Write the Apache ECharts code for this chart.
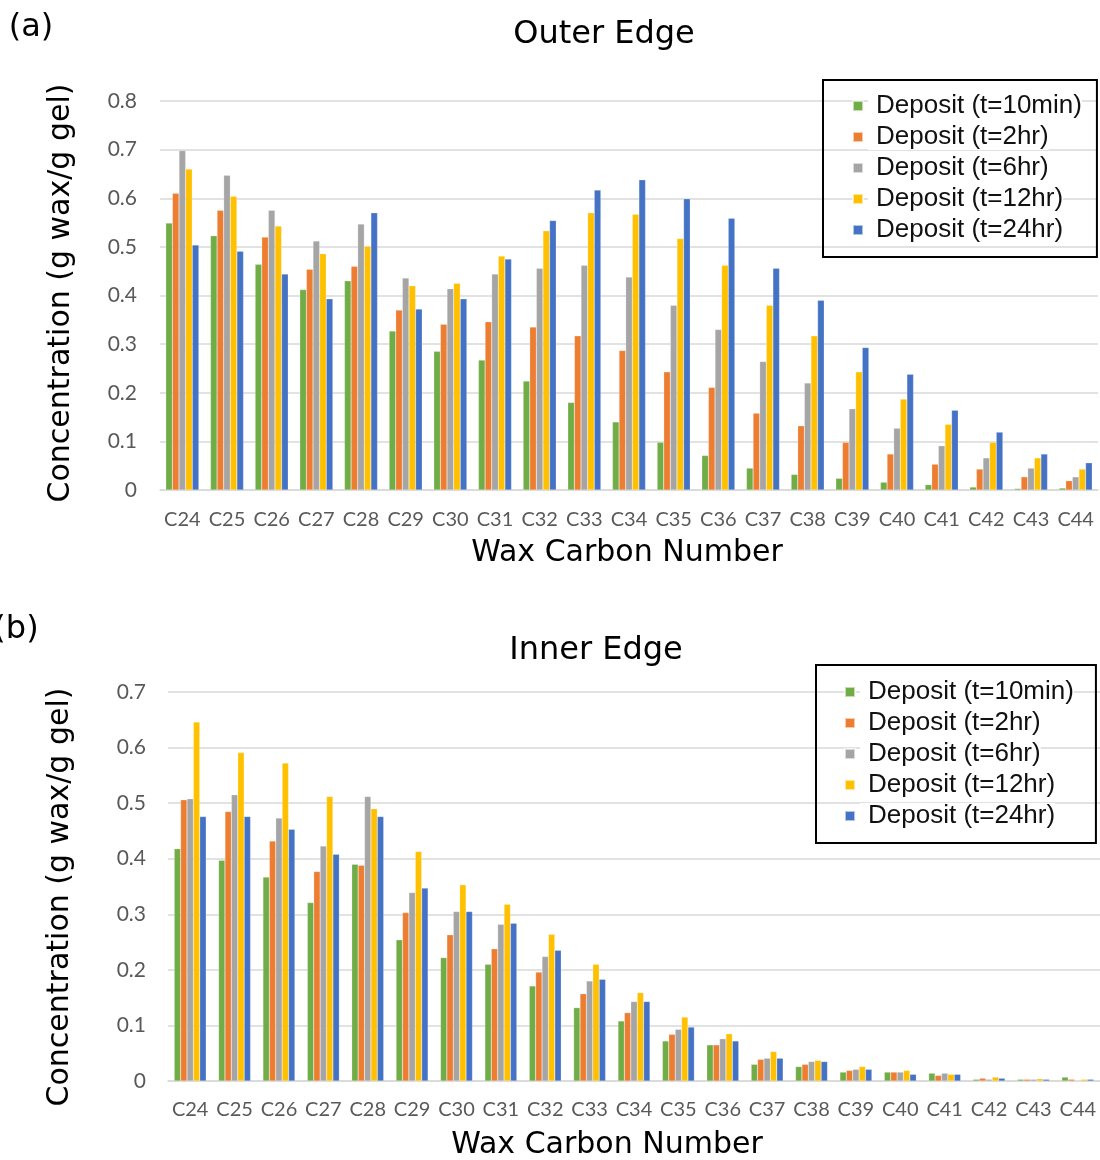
<!DOCTYPE html>
<html>
<head>
<meta charset="utf-8">
<script src="https://cdn.jsdelivr.net/npm/echarts@6/dist/echarts.min.js"></script>
<style>html,body{margin:0;padding:0;background:#fff}#c{width:1100px;height:1160px}</style>
</head>
<body>
<div id="c"></div>
<script>
const categories = ['C24','C25','C26','C27','C28','C29','C30','C31','C32','C33','C34','C35','C36','C37','C38','C39','C40','C41','C42','C43','C44'];
const seriesNames = ['Deposit (t=10min)','Deposit (t=2hr)','Deposit (t=6hr)','Deposit (t=12hr)','Deposit (t=24hr)'];
const colors = ['#70AD47','#ED7D31','#A5A5A5','#FFC000','#4472C4'];

// (a) Outer Edge
const outer10min = [0.549,0.523,0.464,0.412,0.430,0.327,0.285,0.267,0.224,0.180,0.140,0.098,0.071,0.045,0.032,0.024,0.016,0.011,0.006,0.003,0.004];
const outer2hr   = [0.610,0.575,0.520,0.454,0.460,0.370,0.341,0.346,0.335,0.317,0.287,0.243,0.211,0.158,0.132,0.098,0.074,0.053,0.043,0.027,0.019];
const outer6hr   = [0.698,0.647,0.575,0.512,0.547,0.436,0.414,0.444,0.456,0.462,0.438,0.380,0.330,0.264,0.220,0.167,0.127,0.091,0.066,0.045,0.027];
const outer12hr  = [0.660,0.604,0.543,0.486,0.501,0.420,0.425,0.481,0.533,0.570,0.567,0.517,0.462,0.380,0.317,0.243,0.187,0.135,0.098,0.066,0.043];
const outer24hr  = [0.504,0.491,0.444,0.393,0.570,0.372,0.393,0.475,0.554,0.617,0.638,0.599,0.559,0.456,0.390,0.293,0.238,0.164,0.119,0.074,0.056];

// (b) Inner Edge
const inner10min = [0.418,0.397,0.367,0.321,0.390,0.254,0.222,0.210,0.171,0.132,0.108,0.072,0.065,0.030,0.026,0.016,0.016,0.014,0.003,0.003,0.007];
const inner2hr   = [0.506,0.485,0.432,0.377,0.388,0.303,0.263,0.238,0.196,0.157,0.123,0.084,0.065,0.039,0.030,0.019,0.016,0.010,0.005,0.003,0.003];
const inner6hr   = [0.508,0.515,0.473,0.423,0.512,0.339,0.305,0.282,0.224,0.180,0.143,0.093,0.076,0.041,0.035,0.021,0.016,0.014,0.003,0.003,0.001];
const inner12hr  = [0.646,0.591,0.572,0.512,0.490,0.413,0.353,0.318,0.264,0.210,0.159,0.115,0.085,0.053,0.037,0.026,0.019,0.012,0.007,0.004,0.003];
const inner24hr  = [0.476,0.476,0.453,0.408,0.476,0.347,0.305,0.284,0.235,0.183,0.143,0.097,0.072,0.041,0.035,0.021,0.012,0.012,0.005,0.003,0.003];

const outerData = [outer10min, outer2hr, outer6hr, outer12hr, outer24hr];
const innerData = [inner10min, inner2hr, inner6hr, inner12hr, inner24hr];

const tickFont = 'Lato, "Open Sans", sans-serif';
const titleFont = '"DejaVu Sans", sans-serif';
const legendFont = '"Liberation Sans", Arial, sans-serif';

function mkSeries(dataSets, idx, gap) {
  return dataSets.map((d, i) => ({
    type: 'bar',
    name: seriesNames[i],
    xAxisIndex: idx, yAxisIndex: idx,
    data: d,
    barGap: '0%',
    barCategoryGap: gap,
    itemStyle: { color: colors[i], borderColor: 'rgba(255,255,255,0.6)', borderWidth: 0.4 },
    emphasis: { disabled: true },
    animation: false
  }));
}

function xAx(idx, margin) {
  return {
    type: 'category', gridIndex: idx, data: categories,
    axisLine: { lineStyle: { color: '#d9d9d9', width: 1.5 } },
    axisTick: { show: false },
    axisLabel: { color: '#595959', fontFamily: tickFont, fontSize: 20, margin: margin, interval: 0 }
  };
}
function yAx(idx, max, margin) {
  return {
    type: 'value', gridIndex: idx, min: 0, max: max, interval: 0.1,
    axisLine: { show: false }, axisTick: { show: false },
    splitLine: { lineStyle: { color: '#d9d9d9', width: 1.5 } },
    axisLabel: { color: '#595959', fontFamily: tickFont, fontSize: 21, margin: margin,
      formatter: v => (v === 0 ? '0' : v.toFixed(1)) }
  };
}
function legend(left, top, padding) {
  return {
    orient: 'vertical', left: left, top: top,
    data: seriesNames, icon: 'rect', itemWidth: 10, itemHeight: 10, itemGap: 5,
    padding: padding, borderColor: '#000', borderWidth: 2, backgroundColor: 'transparent',
    textStyle: { fontFamily: legendFont, fontSize: 26, lineHeight: 26, color: '#111',
      backgroundColor: '#fff', padding: [0, 0, 0, 8] },
    selectedMode: false
  };
}
function txt(x, y, text, size, rot) {
  return {
    type: 'text', x: x, y: y, rotation: rot || 0,
    style: { text: text, fontFamily: titleFont, fontSize: size, fill: '#000', align: 'center', verticalAlign: 'middle' },
    z: 100
  };
}

const chart = echarts.init(document.getElementById('c'), null, { renderer: 'canvas' });
chart.setOption({
  animation: false,
  grid: [
    { left: 160, right: 2, top: 101, height: 389 },
    { left: 168, right: -6, top: 692, height: 389 }
  ],
  xAxis: [xAx(0, 20), xAx(1, 19)],
  yAxis: [yAx(0, 0.8, 23), yAx(1, 0.7, 22)],
  legend: [legend(823, 80, [13, 15, 14, 29]), legend(816, 665, [14, 22, 14, 28])],
  series: [...mkSeries(outerData, 0, '26%'), ...mkSeries(innerData, 1, '28%')],
  graphic: [
    txt(31, 28, '(a)', 32),
    txt(16, 630, '(b)', 32),
    txt(604, 35, 'Outer Edge', 32),
    txt(596, 651, 'Inner Edge', 32),
    txt(627, 553, 'Wax Carbon Number', 30),
    txt(607, 1145, 'Wax Carbon Number', 30),
    txt(61, 293, 'Concentration (g wax/g gel)', 30, Math.PI / 2),
    txt(60, 897, 'Concentration (g wax/g gel)', 30, Math.PI / 2)
  ]
});
</script>
</body>
</html>
